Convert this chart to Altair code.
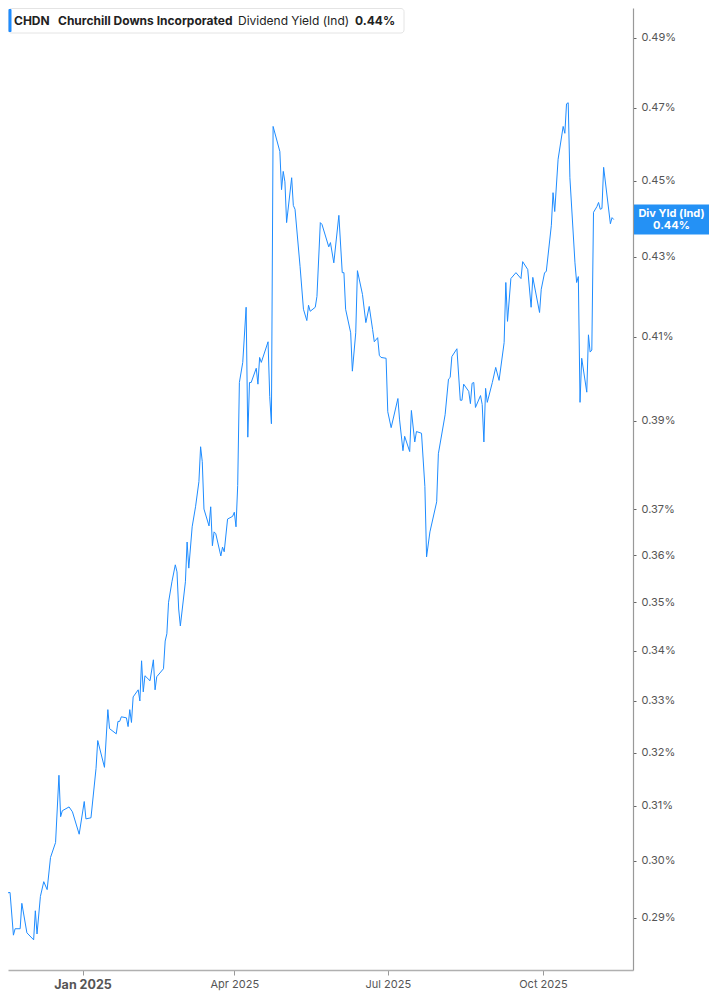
import pandas as pd
import altair as alt

# dividend yield (%)
dates = [
    "2024-11-13", "2024-11-15", "2024-11-19", "2024-11-21", "2024-11-22", "2024-11-25", "2024-11-26", "2024-11-29",
    "2024-12-03", "2024-12-04", "2024-12-05", "2024-12-07", "2024-12-09", "2024-12-11", "2024-12-13", "2024-12-16",
    "2024-12-18", "2024-12-19", "2024-12-20", "2024-12-24", "2024-12-26", "2024-12-30",
    "2025-01-02", "2025-01-03", "2025-01-06", "2025-01-09", "2025-01-10", "2025-01-14", "2025-01-16", "2025-01-17",
    "2025-01-21", "2025-01-22", "2025-01-23", "2025-01-24", "2025-01-27", "2025-01-28", "2025-01-29", "2025-01-30",
    "2025-01-31",
    "2025-02-03", "2025-02-04", "2025-02-05", "2025-02-06", "2025-02-07", "2025-02-10", "2025-02-12", "2025-02-13",
    "2025-02-14", "2025-02-18", "2025-02-19", "2025-02-20", "2025-02-21", "2025-02-23", "2025-02-25", "2025-02-26",
    "2025-02-27", "2025-02-28",
    "2025-03-03", "2025-03-04", "2025-03-05", "2025-03-07", "2025-03-09", "2025-03-11", "2025-03-12", "2025-03-13",
    "2025-03-14", "2025-03-17", "2025-03-18", "2025-03-19", "2025-03-20", "2025-03-21", "2025-03-24", "2025-03-25",
    "2025-03-26", "2025-03-28", "2025-03-31",
    "2025-04-01", "2025-04-02", "2025-04-03", "2025-04-04", "2025-04-06", "2025-04-08", "2025-04-09", "2025-04-10",
    "2025-04-11", "2025-04-14", "2025-04-15", "2025-04-16", "2025-04-17", "2025-04-21", "2025-04-22", "2025-04-23",
    "2025-04-24", "2025-04-28", "2025-04-29", "2025-04-30",
    "2025-05-01", "2025-05-02", "2025-05-05", "2025-05-06", "2025-05-07", "2025-05-10", "2025-05-12", "2025-05-14",
    "2025-05-15", "2025-05-16", "2025-05-19", "2025-05-20", "2025-05-22", "2025-05-23", "2025-05-27", "2025-05-28",
    "2025-05-30",
    "2025-06-02", "2025-06-04", "2025-06-05", "2025-06-06", "2025-06-09", "2025-06-10", "2025-06-12", "2025-06-13",
    "2025-06-16", "2025-06-18", "2025-06-20", "2025-06-22", "2025-06-23", "2025-06-25", "2025-06-26", "2025-06-27",
    "2025-06-30",
    "2025-07-01", "2025-07-03", "2025-07-07", "2025-07-08", "2025-07-10", "2025-07-11", "2025-07-14", "2025-07-15",
    "2025-07-17", "2025-07-18", "2025-07-21", "2025-07-23", "2025-07-24", "2025-07-26", "2025-07-30", "2025-07-31",
    "2025-08-04", "2025-08-06", "2025-08-07", "2025-08-08", "2025-08-11", "2025-08-13", "2025-08-14", "2025-08-15",
    "2025-08-18", "2025-08-19", "2025-08-20", "2025-08-21", "2025-08-22", "2025-08-25", "2025-08-26", "2025-08-27",
    "2025-08-28", "2025-08-29",
    "2025-09-01", "2025-09-03", "2025-09-05", "2025-09-08", "2025-09-09", "2025-09-10", "2025-09-12", "2025-09-15",
    "2025-09-18", "2025-09-19", "2025-09-22", "2025-09-24", "2025-09-25", "2025-09-29", "2025-09-30",
    "2025-10-02", "2025-10-03", "2025-10-06", "2025-10-07", "2025-10-08", "2025-10-10", "2025-10-13", "2025-10-14",
    "2025-10-15", "2025-10-16", "2025-10-17", "2025-10-20", "2025-10-21", "2025-10-22", "2025-10-23", "2025-10-24",
    "2025-10-27", "2025-10-28", "2025-10-29", "2025-10-30", "2025-10-31",
    "2025-11-02", "2025-11-03", "2025-11-04", "2025-11-05", "2025-11-06", "2025-11-10", "2025-11-11", "2025-11-12",
]

yields = [
    0.2888, 0.2942, 0.2944, 0.2870, 0.2881, 0.2881, 0.2925, 0.2874,
    0.2862, 0.2912, 0.2872, 0.2937, 0.2963, 0.2949, 0.3006, 0.3033,
    0.3157, 0.3080, 0.3091, 0.3098, 0.3089, 0.3048,
    0.3108, 0.3076, 0.3078, 0.3170, 0.3223, 0.3172, 0.3283, 0.3246,
    0.3236, 0.3260, 0.3260, 0.3269, 0.3267, 0.3250, 0.3283, 0.3258,
    0.3308,
    0.3322, 0.3300, 0.3380, 0.3318, 0.3350, 0.3340, 0.3382, 0.3322,
    0.3348, 0.3364, 0.3420, 0.3435, 0.3500, 0.3543, 0.3579, 0.3564,
    0.3486, 0.3451,
    0.3543, 0.3628, 0.3572, 0.3661, 0.3705, 0.3761, 0.3840, 0.3806,
    0.3700, 0.3663, 0.3705, 0.3620, 0.3650, 0.3646, 0.3598, 0.3617,
    0.3607, 0.3678, 0.3684,
    0.3693, 0.3661, 0.3752, 0.3990, 0.4038, 0.4173, 0.3862, 0.3990,
    0.3990, 0.4024, 0.3986, 0.4050, 0.4038, 0.4088, 0.3957, 0.3893,
    0.4648, 0.4579, 0.4476, 0.4525,
    0.4497, 0.4389, 0.4508, 0.4434, 0.4424, 0.4275, 0.4168, 0.4140,
    0.4178, 0.4163, 0.4173, 0.4200, 0.4389, 0.4384, 0.4326, 0.4337,
    0.4285,
    0.4408, 0.4260, 0.4260, 0.4168, 0.4110, 0.4017, 0.4110, 0.4265,
    0.4205, 0.4135, 0.4175, 0.4118, 0.4088, 0.4098, 0.4055, 0.4050,
    0.4048,
    0.3921, 0.3884, 0.3952, 0.3902, 0.3831, 0.3864, 0.3829, 0.3924,
    0.3851, 0.3875, 0.3871, 0.3750, 0.3596, 0.3650, 0.3716, 0.3824,
    0.3914, 0.3998, 0.4002, 0.4052, 0.4071, 0.3948, 0.3948, 0.3986,
    0.3969, 0.3940, 0.3988, 0.3990, 0.3931, 0.3959, 0.3938, 0.3851,
    0.3976, 0.3943,
    0.3990, 0.4026, 0.3995, 0.4086, 0.4235, 0.4138, 0.4245, 0.4260,
    0.4245, 0.4288, 0.4268, 0.4173, 0.4248, 0.4160, 0.4218,
    0.4260, 0.4263, 0.4382, 0.4468, 0.4418, 0.4558, 0.4648, 0.4629,
    0.4711, 0.4714, 0.4508, 0.4285, 0.4235, 0.4250, 0.3943, 0.4048,
    0.3967, 0.4105, 0.4063, 0.4068, 0.4416,
    0.4431, 0.4442, 0.4424, 0.4426, 0.4536, 0.4386, 0.4402, 0.4397,
]

y_ticks = [0.29, 0.30, 0.31, 0.32, 0.33, 0.34, 0.35, 0.36, 0.37, 0.39, 0.41, 0.43, 0.45, 0.47, 0.49]

ticker = "CHDN"
company = "Churchill Downs Incorporated"
metric = "Dividend Yield (Ind)"
tag_name = "Div Yld (Ind)"

BLUE = "#1e8cff"
FONT = "Inter"

df = pd.DataFrame({"date": dates, "v": yields})
last = df.tail(1)
last_txt = f"{yields[-1]:.2f}%"

W, H = 625, 962

x_enc = alt.X(
    "date:T",
    title=None,
    scale=alt.Scale(
        type="utc",
        domain=[alt.DateTime(year=2024, month=11, date=17, hours=19, utc=True),
                alt.DateTime(year=2025, month=11, date=23, hours=10, utc=True)],
    ),
    axis=alt.Axis(
        values=[alt.DateTime(year=2025, month=m, date=1, utc=True) for m in (1, 4, 7, 10)],
        labelExpr="utcFormat(datum.value, '%b %Y')",
        labelFontWeight={"condition": {"test": "utcmonth(datum.value) == 0", "value": "bold"}, "value": "normal"},
        labelFontSize={"condition": {"test": "utcmonth(datum.value) == 0", "value": 12.5}, "value": 11},
        labelColor="#555",
        labelFont=FONT,
        labelPadding=3,
        tickSize=5,
        tickColor="#999",
        domainColor="#b0b0b0",
        domainWidth=1.5,
        grid=False,
    ),
)

y_enc = alt.Y(
    "v:Q",
    title=None,
    scale=alt.Scale(type="log", domain=[0.2811, 0.4988], nice=False, zero=False),
    axis=alt.Axis(
        orient="right",
        values=y_ticks,
        labelExpr="format(datum.value, '.2f') + '%'",
        labelColor="#555",
        labelFont=FONT,
        labelFontSize=11,
        labelPadding=5,
        tickSize=3,
        tickColor="#666",
        domainColor="#999",
        domainWidth=1.2,
        grid=False,
    ),
)

line = alt.Chart(df).mark_line(color=BLUE, strokeWidth=1, clip=True).encode(x=x_enc, y=y_enc)

one = pd.DataFrame({"k": [0]})

# header box in the top left corner
head_box = alt.Chart(one).mark_rect(fill="white", stroke="#e4e4e4", strokeWidth=1, cornerRadius=3).encode(
    x=alt.value(0.5), x2=alt.value(396), y=alt.value(0.5), y2=alt.value(25)
)
head_bar = alt.Chart(one).mark_rect(fill=BLUE, cornerRadius=1).encode(
    x=alt.value(0.5), x2=alt.value(3.5), y=alt.value(1), y2=alt.value(24)
)


def head_text(txt, x, weight):
    return alt.Chart(one).mark_text(
        align="left", baseline="middle", font=FONT, fontSize=12, fontWeight=weight, color="#222"
    ).encode(x=alt.value(x), y=alt.value(12.5), text=alt.value(txt))


header = [
    head_text(ticker, 6, "bold"),
    head_text(company, 50, "bold"),
    head_text(metric, 230, "normal"),
    head_text(last_txt, 347, "bold"),
]

# value tag on the right axis
tag_box = alt.Chart(last).mark_rect(fill="#2491f5", yOffset=-15, y2Offset=15).encode(
    x=alt.value(626), x2=alt.value(701), y=alt.Y("v:Q"), y2=alt.Y2("v")
)


def tag_line(txt, dy):
    return alt.Chart(last).mark_text(
        color="white", font=FONT, fontSize=11, fontWeight="bold",
        align="center", baseline="middle", dy=dy
    ).encode(x=alt.value(663.5), y=alt.Y("v:Q"), text=alt.value(txt))


chart = alt.layer(
    line, head_box, head_bar, *header, tag_box, tag_line(tag_name, -6), tag_line(last_txt, 6)
).properties(
    width=W, height=H,
    autosize=alt.AutoSizeParams(type="none"),
    padding={"left": 0, "top": 0, "right": 76, "bottom": 21},
).configure_view(stroke=None)

chart.save("out.html", embed_options={"renderer": "svg", "actions": False})
